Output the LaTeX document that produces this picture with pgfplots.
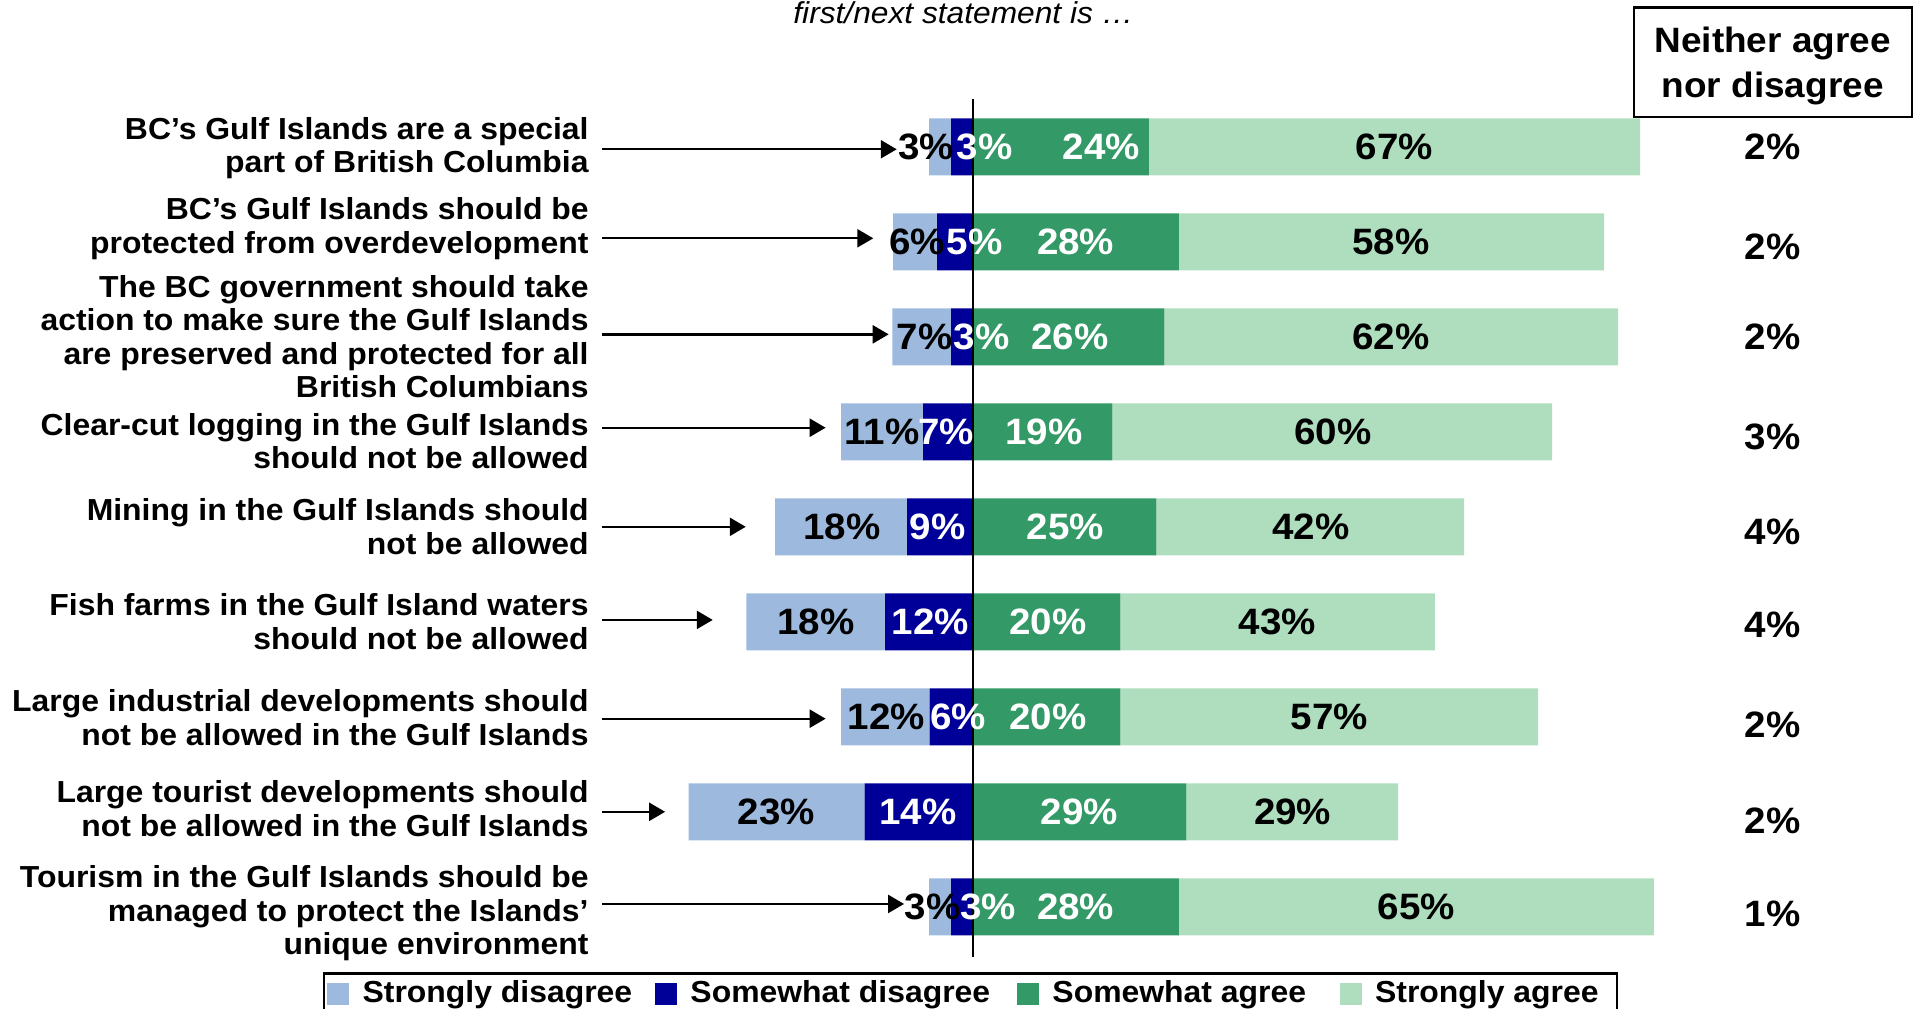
\documentclass[border=0pt]{standalone}
\usepackage{fontspec}
\setmainfont{Liberation Sans}
\newfontfamily\wide{Liberation Sans}[FakeStretch=1.05]
\usepackage{pgfplots}
\usepackage{pgfplotstable}
\pgfplotsset{compat=1.18}
\usetikzlibrary{arrows.meta}

\definecolor{lblue}{RGB}{157,186,222}
\definecolor{dblue}{RGB}{0,0,153}
\definecolor{dgreen}{RGB}{51,153,102}
\definecolor{lgreen}{RGB}{175,222,191}

\newcommand\numfont{\wide\fontsize{18.35bp}{22bp}\selectfont\bfseries}
\newcommand\labfont{\wide\fontsize{15.2bp}{16.7bp}\selectfont\bfseries}

% bar lengths (percent)
\pgfplotstableread{
row sd swd sa sta
0 3 3 24 67
1 6 4.9 28.1 58
2 8 3 26.1 61.9
3 11.2 6.8 19 60
4 18 9 25 42
5 18.9 12 20.1 42.9
6 12.1 5.9 20.1 57
7 24 14.8 29.1 28.9
8 3 3 28.1 64.8
}\likert

\pgfplotsset{
  frame/.style={
    scale only axis, width=958.5bp, height=504.5bp,
    xmin=-132.74, xmax=128.79, ymin=-1.5453, ymax=9.0758,
    y dir=reverse,
  },
}

\begin{document}
\begin{tikzpicture}
% disagree side
\begin{axis}[frame, hide axis, xbar stacked, bar width=28.5bp]
  \addplot[draw=none, fill=dblue] table[x expr=-\thisrow{swd}, y=row] {\likert};
  \addplot[draw=none, fill=lblue] table[x expr=-\thisrow{sd}, y=row] {\likert};
\end{axis}
% agree side
\begin{axis}[frame, hide axis, xbar stacked, bar width=28.5bp]
  \addplot[draw=none, fill=dgreen] table[x=sa, y=row] {\likert};
  \addplot[draw=none, fill=lgreen] table[x=sta, y=row] {\likert};
\end{axis}
% labels, arrows, legend
\begin{axis}[frame, clip=false,
  axis line style={draw=none}, tick style={draw=none}, major tick length=0pt,
  xtick=\empty,
  ytick={0.013,0.863,2,3.097,4,5,6.01,6.968,8.07},
  yticklabels={
    {BC’s Gulf Islands are a special\\part of British Columbia},
    {BC’s Gulf Islands should be\\protected from overdevelopment},
    {The BC government should take\\action to make sure the Gulf Islands\\are preserved and protected for all\\British Columbians},
    {Clear-cut logging in the Gulf Islands\\should not be allowed},
    {Mining in the Gulf Islands should\\not be allowed},
    {Fish farms in the Gulf Island waters\\should not be allowed},
    {Large industrial developments should\\not be allowed in the Gulf Islands},
    {Large tourist developments should\\not be allowed in the Gulf Islands},
    {Tourism in the Gulf Islands should be\\managed to protect the Islands’\\unique environment}},
  yticklabel style={align=right, anchor=east, inner sep=0pt, xshift=294.5bp, font=\labfont},
  legend columns=4, legend cell align=left,
  legend image code/.code={\fill[#1] (0bp,-6.2bp) rectangle (11bp,4.8bp);},
  legend style={at={(0.1683,0.0364)}, anchor=north west, draw=black, line width=1.2bp,
    inner xsep=1.6bp, inner ysep=3.5bp, nodes={inner sep=0pt},
    font=\wide\fontsize{15.2bp}{18bp}\selectfont\bfseries,
    /tikz/every odd column/.append style={column sep=6.8bp},
    /tikz/column 2/.style={column sep=11.3bp},
    /tikz/column 4/.style={column sep=13.3bp},
    /tikz/column 6/.style={column sep=16.7bp}},
]
  % black value labels
  \addplot[forget plot, draw=none, mark=none, point meta=explicit symbolic,
    nodes near coords, nodes near coords style={anchor=center, inner sep=0pt, text=black, font=\numfont}]
    coordinates {
    (-6.4,0) [3\%] (57.5,0) [67\%]
    (-7.6,1) [6\%] (57.0,1) [58\%]
    (-6.6,2) [7\%] (57.0,2) [62\%]
    (-12.4,3) [11\%] (49.1,3) [60\%]
    (-17.9,4) [18\%] (46.1,4) [42\%]
    (-21.4,5) [18\%] (41.5,5) [43\%]
    (-11.8,6) [12\%] (48.6,6) [57\%]
    (-26.8,7) [23\%] (43.6,7) [29\%]
    (-5.5,8) [3\%] (60.5,8) [65\%]
  };
  % white value labels
  \addplot[forget plot, draw=none, mark=none, point meta=explicit symbolic,
    nodes near coords, nodes near coords style={anchor=center, inner sep=0pt, text=white, font=\numfont}]
    coordinates {
    (1.6,0) [3\%] (17.5,0) [24\%]
    (0.2,1) [5\%] (14.0,1) [28\%]
    (1.2,2) [3\%] (13.2,2) [26\%]
    (-3.7,3) [7\%] (9.7,3) [19\%]
    (-4.8,4) [9\%] (12.6,4) [25\%]
    (-5.8,5) [12\%] (10.2,5) [20\%]
    (-2.0,6) [6\%] (10.2,6) [20\%]
    (-7.5,7) [14\%] (14.5,7) [29\%]
    (2.1,8) [3\%] (14.0,8) [28\%]
  };
  % neither agree nor disagree column
  \addplot[forget plot, draw=none, mark=none, point meta=explicit symbolic,
    nodes near coords, nodes near coords style={anchor=center, inner sep=0pt, text=black, font=\numfont}]
    coordinates {
    (109.1,0) [2\%] (109.1,1.05) [2\%] (109.1,2.0) [2\%] (109.1,3.05) [3\%]
    (109.1,4.055) [4\%] (109.1,5.03) [4\%] (109.1,6.08) [2\%] (109.1,7.09) [2\%]
    (109.1,8.07) [1\%]
  };

  % arrows from statements to bars
  \begin{scope}[line width=1.2bp, -{Triangle[length=8bp, width=9bp]}]
    \draw (axis cs:-50.6,0.026) -- (axis cs:-10.4,0.026);
    \draw (axis cs:-50.6,0.963) -- (axis cs:-13.6,0.963);
    \draw (axis cs:-50.6,1.974) -- (axis cs:-11.5,1.974);
    \draw (axis cs:-50.6,2.957) -- (axis cs:-20.1,2.957);
    \draw (axis cs:-50.6,4) -- (axis cs:-31.0,4);
    \draw (axis cs:-50.6,4.98) -- (axis cs:-35.5,4.98);
    \draw (axis cs:-50.6,6.02) -- (axis cs:-20.1,6.02);
    \draw (axis cs:-50.6,7) -- (axis cs:-42.0,7);
    \draw (axis cs:-50.6,7.97) -- (axis cs:-9.4,7.97);
  \end{scope}

  % zero line
  \draw[line width=0.9bp] (axis cs:0,-0.503) -- (axis cs:0,8.525);

  % header box and title
  \draw[line width=1.2bp] (axis cs:90.2,-1.468) rectangle (axis cs:128.1,-0.311);
  \node[align=center, inner sep=0pt, font=\wide\fontsize{17.6bp}{22.8bp}\selectfont\bfseries]
    at (axis cs:109.1,-0.85) {Neither agree\\nor disagree};
  \node[anchor=base, inner sep=0pt, font=\wide\fontsize{15.1bp}{17bp}\selectfont\itshape]
    at (axis cs:-1.3,-1.293) {first/next statement is …};

  \addlegendimage{fill=lblue, draw=none}
  \addlegendentry{Strongly disagree}
  \addlegendimage{fill=dblue, draw=none}
  \addlegendentry{Somewhat disagree}
  \addlegendimage{fill=dgreen, draw=none}
  \addlegendentry{Somewhat agree}
  \addlegendimage{fill=lgreen, draw=none}
  \addlegendentry{Strongly agree\rule{7.6bp}{0pt}}
\end{axis}
\pgfresetboundingbox
\path[use as bounding box] (current axis.south west) rectangle (current axis.north east);
\end{tikzpicture}
\end{document}
